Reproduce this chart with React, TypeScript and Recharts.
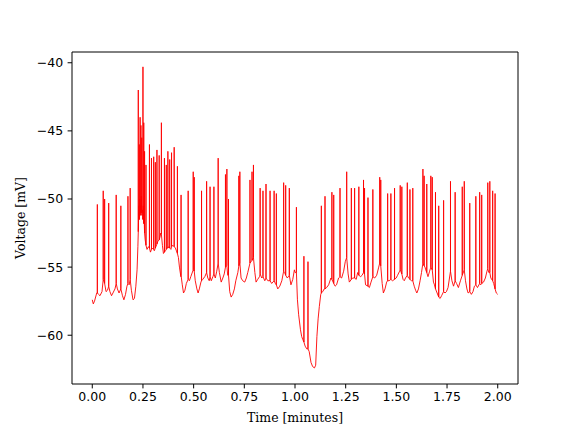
import { LineChart, Line, XAxis, YAxis, Label, ReferenceLine } from "recharts"

// membrane potential trace (time in minutes, voltage in mV)
const baseT = [
  0.000, 0.005, 0.011, 0.022, 0.031, 0.038, 0.048, 0.068, 0.075, 0.087, 0.095, 0.102, 0.112, 0.124, 0.132,
  0.149, 0.156, 0.164, 0.171, 0.182, 0.193, 0.201, 0.208, 0.215, 0.221, 0.225,
  0.230, 0.234, 0.238, 0.242, 0.247, 0.252, 0.256, 0.261,
  0.270, 0.277, 0.287, 0.297, 0.306, 0.314, 0.324, 0.334, 0.338, 0.346, 0.351, 0.361, 0.368, 0.378, 0.388,
  0.398, 0.410, 0.415, 0.425, 0.430, 0.437, 0.444, 0.450, 0.457, 0.464, 0.479, 0.486, 0.508, 0.516, 0.522,
  0.528, 0.536, 0.545, 0.555, 0.570, 0.577, 0.587, 0.595, 0.607, 0.614, 0.627, 0.636, 0.644, 0.651, 0.668,
  0.678, 0.685, 0.693, 0.701, 0.708, 0.718, 0.734, 0.742, 0.752, 0.760, 0.767, 0.802, 0.808, 0.816, 0.825,
  0.836, 0.851, 0.866, 0.885, 0.903, 0.915, 0.925, 0.935, 0.949, 0.962, 0.980, 0.989, 0.997, 1.001, 1.012,
  1.018, 1.027, 1.033, 1.038, 1.050, 1.058, 1.070, 1.079, 1.087, 1.096, 1.102, 1.108, 1.114, 1.120, 1.127,
  1.137, 1.144, 1.156, 1.166, 1.177, 1.198, 1.205, 1.215, 1.230, 1.240, 1.248, 1.262, 1.268, 1.284, 1.302,
  1.309, 1.324, 1.331, 1.348, 1.367, 1.375, 1.393, 1.403, 1.413, 1.430, 1.436, 1.444, 1.452, 1.464, 1.481,
  1.499, 1.506, 1.516, 1.533, 1.539, 1.545, 1.560, 1.575, 1.588, 1.595, 1.601, 1.609, 1.617, 1.624, 1.641,
  1.645, 1.656, 1.664, 1.683, 1.688, 1.701, 1.716, 1.723, 1.740, 1.747, 1.755, 1.762, 1.774, 1.782, 1.797,
  1.806, 1.816, 1.841, 1.848, 1.854, 1.870, 1.878, 1.885, 1.900, 1.916, 1.930, 1.939, 1.947, 1.956, 1.966,
  1.980, 1.993, 2.000,
]
const baseV = [
  -57.4, -57.7, -57.5, -56.9, -57.0, -57.1, -56.8, -56.8, -56.7, -56.8, -57.1, -56.9, -56.6, -56.6, -56.9,
  -57.1, -57.4, -57.0, -56.4, -56.3, -56.7, -57.4, -57.3, -56.4, -55.2, -53.5,
  -50.5, -50.0, -50.5, -49.8, -50.8, -50.5, -51.5, -53.0,
  -53.7, -53.5, -53.9, -53.6, -53.8, -53.5, -53.1, -52.8, -52.5, -53.4, -54.0, -53.8, -53.6, -53.5, -53.7,
  -53.4, -53.6, -53.8, -54.3, -55.0, -55.7, -56.3, -56.9, -56.7, -56.2, -56.0, -55.7, -56.0, -56.6, -56.9,
  -56.6, -56.1, -55.9, -55.7, -55.8, -56.0, -56.0, -55.7, -55.8, -55.3, -55.4, -56.1, -55.8, -55.5, -55.6,
  -56.8, -57.2, -57.0, -56.6, -56.0, -55.4, -55.8, -56.0, -56.1, -55.8, -55.4, -55.4, -56.1, -55.9, -55.7,
  -55.8, -56.0, -56.0, -56.2, -56.2, -56.6, -56.4, -56.0, -55.4, -55.8, -56.3, -55.9, -55.2, -55.4, -57.4,
  -58.5, -59.6, -60.1, -60.3, -60.8, -61.0, -61.2, -62.0, -62.3, -62.4, -62.2, -60.1, -58.8, -57.9, -57.0,
  -56.8, -56.6, -56.5, -56.3, -55.8, -56.4, -56.3, -55.8, -55.8, -55.3, -54.6, -55.5, -56.1, -55.8, -55.9,
  -55.4, -55.7, -55.6, -56.3, -56.5, -56.1, -55.8, -55.6, -55.0, -56.2, -56.9, -56.6, -56.1, -56.0, -56.0,
  -55.8, -55.6, -55.3, -55.9, -56.0, -55.8, -55.8, -56.0, -56.4, -56.7, -56.9, -56.6, -56.0, -55.4, -55.0,
  -55.2, -55.7, -55.3, -56.1, -56.3, -56.9, -57.3, -57.1, -56.9, -56.8, -56.5, -55.8, -56.0, -56.4, -56.2,
  -56.5, -56.0, -56.0, -56.6, -56.9, -57.0, -56.8, -56.4, -56.5, -56.3, -56.1, -55.8, -55.3, -55.4, -55.8,
  -56.2, -56.9, -57.0,
]

// action potentials: time, foot voltage, peak voltage
const spikeT = [
  0.025, 0.054, 0.061, 0.081, 0.118, 0.141, 0.176, 0.187,
  0.227, 0.232, 0.236, 0.240, 0.244, 0.250, 0.254, 0.258, 0.265,
  0.282, 0.292, 0.303, 0.311, 0.319, 0.330, 0.341, 0.356, 0.365, 0.373, 0.382, 0.391, 0.404, 0.420,
  0.438, 0.473, 0.498, 0.503, 0.539, 0.564, 0.581, 0.600, 0.621, 0.657, 0.664, 0.672,
  0.723, 0.728, 0.778, 0.788, 0.795, 0.828, 0.842, 0.857, 0.877, 0.897, 0.908, 0.944, 0.954, 0.972,
  1.007, 1.044, 1.064, 1.130, 1.148, 1.182, 1.191, 1.222, 1.255, 1.278, 1.294, 1.315, 1.338, 1.343,
  1.360, 1.384, 1.418, 1.423, 1.457, 1.473, 1.491, 1.519, 1.527, 1.554, 1.567, 1.581, 1.631, 1.637,
  1.650, 1.670, 1.677, 1.693, 1.709, 1.733, 1.767, 1.790, 1.825, 1.835, 1.862, 1.892, 1.911, 1.921,
  1.951, 1.961, 1.975, 1.987,
]
const spikeFoot = [
  -56.9, -55.9, -56.2, -56.4, -56.2, -56.6, -56.2, -55.9,
  -52.4, -51.5, -51.0, -51.2, -51.0, -51.5, -51.8, -52.5, -53.4,
  -53.6, -53.7, -53.7, -53.6, -53.3, -53.0, -52.6, -53.9, -53.7, -53.6, -53.6, -53.5, -53.5, -54.0,
  -55.6, -55.9, -55.2, -55.3, -56.0, -55.4, -55.7, -55.5, -54.7, -55.0, -54.9, -55.6,
  -54.9, -54.7, -54.7, -54.5, -54.3, -55.5, -55.7, -55.8, -56.0, -56.0, -56.3, -55.3, -55.6, -55.6,
  -55.4, -60.5, -61.0, -56.9, -56.6, -55.9, -56.2, -55.7, -54.3, -55.9, -55.8, -55.6, -55.4, -55.5,
  -56.4, -55.7, -54.7, -54.9, -56.0, -55.9, -55.9, -55.2, -55.5, -55.6, -55.9, -56.0, -54.7, -54.9,
  -55.4, -55.0, -55.2, -56.6, -57.2, -56.8, -55.3, -56.0, -55.6, -55.2, -56.8, -56.3, -56.2, -56.2,
  -55.1, -55.4, -56.0, -56.6,
]
const spikePeak = [
  -50.4, -49.4, -50.0, -50.3, -49.7, -50.5, -49.8, -49.2,
  -42.0, -46.0, -44.0, -44.6, -45.5, -40.3, -44.4, -46.5, -47.5,
  -46.0, -47.0, -46.9, -47.3, -46.4, -46.8, -44.4, -47.0, -47.5, -46.5, -47.1, -46.6, -46.2, -47.6,
  -49.7, -49.4, -48.0, -48.4, -49.4, -48.7, -49.1, -49.1, -47.0, -48.2, -47.8, -50.0,
  -48.3, -48.0, -48.6, -48.0, -47.5, -49.2, -49.4, -48.9, -49.4, -49.4, -49.6, -48.8, -49.0, -49.2,
  -50.6, -54.2, -54.6, -50.5, -49.8, -49.5, -49.7, -49.2, -48.0, -49.2, -49.2, -49.1, -48.6, -49.2,
  -49.9, -49.3, -48.4, -48.6, -49.6, -49.6, -49.2, -49.0, -49.1, -48.8, -49.3, -49.2, -47.8, -48.3,
  -48.9, -48.3, -48.4, -49.5, -50.5, -50.1, -48.7, -49.5, -49.1, -48.7, -50.3, -49.8, -49.5, -49.7,
  -48.8, -48.7, -49.4, -49.6,
]

const xTicks = [0, 0.25, 0.5, 0.75, 1, 1.25, 1.5, 1.75, 2]
const yTicks = [-60, -55, -50, -45, -40]
const xDomain = [-0.1, 2.1]
const yDomain = [-63.58, -39.21]

const trace: { t: number; v: number }[] = []
baseT.forEach((t, i) => trace.push({ t, v: baseV[i] }))
spikeT.forEach((t, i) => {
  trace.push({ t, v: spikeFoot[i] })
  trace.push({ t, v: spikePeak[i] })
  trace.push({ t, v: spikeFoot[i] })
})
trace.sort((a, b) => a.t - b.t)

const tickFont = { fill: "#000", fontSize: 12.5, fontFamily: "DejaVu Sans" }
const minus = (v: number) => (v < 0 ? "\u2212" + Math.abs(v) : String(v))

export default function App() {
  return (
    <div style={{ position: "absolute", left: 0, top: 0, width: 576, height: 432, background: "#fff" }}>
      <LineChart width={576} height={432} data={trace} margin={{ top: 52, right: 58, left: 0, bottom: 0 }}>
        <XAxis
          dataKey="t"
          type="number"
          domain={xDomain}
          ticks={xTicks}
          allowDataOverflow
          height={48}
          tickSize={4.4}
          tickMargin={4}
          tickFormatter={(v: number) => v.toFixed(2)}
          tick={tickFont}
          stroke="#000"
        >
          <Label
            content={() => (
              <text x={295} y={422} textAnchor="middle" fontFamily="DejaVu Serif" fontSize={12.5} fill="#000">
                Time [minutes]
              </text>
            )}
          />
        </XAxis>
        <YAxis
          type="number"
          domain={yDomain}
          ticks={yTicks}
          allowDataOverflow
          width={72}
          tickSize={4.4}
          tickMargin={4.4}
          tickFormatter={minus}
          tick={tickFont}
          stroke="#000"
        >
          <Label
            content={() => (
              <text
                x={25}
                y={218}
                transform="rotate(-90 25 218)"
                textAnchor="middle"
                fontFamily="DejaVu Serif"
                fontSize={12.5}
                fill="#000"
              >
                Voltage [mV]
              </text>
            )}
          />
        </YAxis>
        {/* top and right spines */}
        <ReferenceLine y={yDomain[1]} stroke="#000" strokeWidth={1} />
        <ReferenceLine x={xDomain[1]} stroke="#000" strokeWidth={1} />
        <Line
          type="linear"
          dataKey="v"
          stroke="#ff0000"
          strokeWidth={0.9}
          dot={false}
          isAnimationActive={false}
        />
      </LineChart>
    </div>
  )
}
